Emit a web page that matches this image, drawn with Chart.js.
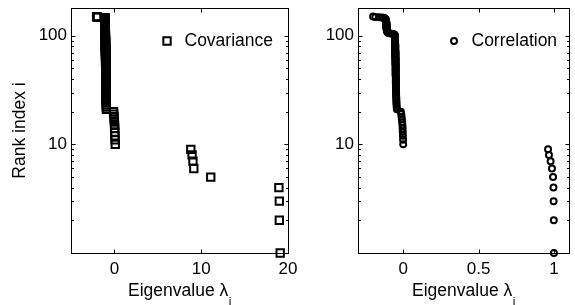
<!DOCTYPE html>
<html>
<head>
<meta charset="utf-8">
<script src="https://cdn.jsdelivr.net/npm/chart.js@4.4.1/dist/chart.umd.min.js"></script>
<style>
  html, body { margin: 0; padding: 0; background: #fff; }
  #wrap { position: relative; width: 575px; height: 305px; overflow: hidden; }
  canvas { position: absolute; top: 0; }
  #covChart { left: 0; }
  #corChart { left: 290px; }
</style>
</head>
<body>
<div id="wrap">
  <canvas id="covChart" width="300" height="305"></canvas>
  <canvas id="corChart" width="285" height="305"></canvas>
</div>
<script>
// eigenvalues, sorted from rank 1 (largest) to rank 150 (smallest)
var covEig = [19.1, 19.0, 19.0, 18.95, 11.1, 9.15, 9.05, 8.95, 8.8,
  0.1, 0.08, 0.06, 0.05, 0.03, 0.02, 0.0, -0.02, -0.04, -0.07, -0.1,
  -0.92, -0.93, -0.94, -0.94, -0.95, -0.95, -0.96, -0.96, -0.96, -0.97,
  -0.97, -0.97, -0.97, -0.98, -0.98, -0.98, -0.98, -0.98, -0.99, -0.99,
  -0.99, -0.99, -0.99, -0.99, -1.00, -1.00, -1.00, -1.00, -1.00, -1.00,
  -1.00, -1.00, -1.00, -1.00, -1.00, -1.01, -1.01, -1.01, -1.01, -1.01,
  -1.01, -1.01, -1.01, -1.01, -1.01, -1.01, -1.02, -1.02, -1.02, -1.02,
  -1.02, -1.02, -1.02, -1.02, -1.02, -1.02, -1.02, -1.02, -1.03, -1.03,
  -1.03, -1.03, -1.03, -1.03, -1.03, -1.03, -1.03, -1.03, -1.03, -1.03,
  -1.03, -1.04, -1.04, -1.04, -1.04, -1.04, -1.04, -1.04, -1.04, -1.04,
  -1.04, -1.04, -1.04, -1.04, -1.05, -1.05, -1.05, -1.05, -1.05, -1.05,
  -1.05, -1.05, -1.05, -1.05, -1.05, -1.05, -1.05, -1.06, -1.06, -1.06,
  -1.06, -1.06, -1.06, -1.06, -1.06, -1.06, -1.06, -1.06, -1.06, -1.07,
  -1.07, -1.07, -1.07, -1.07, -1.07, -1.07, -1.07, -1.08, -1.08, -1.08,
  -1.08, -1.08, -1.08, -1.09, -1.09, -1.10, -1.10,
  -1.95, -2.0, -2.05];

var corEig = [1.0, 0.999, 0.998, 0.997, 0.994, 0.987, 0.978, 0.967, 0.961,
  0.0, -0.001, -0.002, -0.003, -0.004, -0.005, -0.007, -0.009, -0.011, -0.013, -0.016,
  -0.042, -0.043, -0.044, -0.045, -0.045, -0.046, -0.046, -0.047, -0.047, -0.047,
  -0.048, -0.048, -0.048, -0.048, -0.048, -0.049, -0.049, -0.049, -0.049, -0.049,
  -0.049, -0.049, -0.050, -0.050, -0.050, -0.050, -0.050, -0.050, -0.050, -0.050,
  -0.050, -0.050, -0.050, -0.050, -0.051, -0.051, -0.051, -0.051, -0.051, -0.051,
  -0.051, -0.051, -0.051, -0.052, -0.052, -0.052, -0.052, -0.052, -0.052, -0.052,
  -0.052, -0.052, -0.053, -0.053, -0.053, -0.053, -0.053, -0.053, -0.053, -0.053,
  -0.053, -0.053, -0.053, -0.054, -0.054, -0.054, -0.054, -0.054, -0.054, -0.054,
  -0.054, -0.054, -0.055, -0.055, -0.055, -0.055, -0.055, -0.055, -0.055, -0.055,
  -0.056, -0.058, -0.062, -0.070, -0.085,
  -0.098, -0.102, -0.104, -0.105, -0.106, -0.107, -0.108, -0.108, -0.109, -0.109,
  -0.110, -0.110, -0.110, -0.110, -0.110, -0.111, -0.111, -0.111, -0.111, -0.111,
  -0.112, -0.112, -0.112, -0.112, -0.112, -0.113, -0.113, -0.113, -0.113, -0.113,
  -0.114, -0.114, -0.115, -0.115, -0.116, -0.117, -0.118, -0.120, -0.122, -0.125, -0.128,
  -0.140, -0.160, -0.185, -0.200];

var yLabelTicks = [10, 100];
var covXTicks = [0, 10, 20];
var corXTicks = [0, 0.5, 1];

var FONT = '"Liberation Sans", Arial, Helvetica, sans-serif';
Chart.defaults.font.family = FONT;
Chart.defaults.font.size = 17;
Chart.defaults.color = '#000';

function toPoints(eig) {
  return eig.map(function (v, i) { return { x: v, y: i + 1 }; });
}

// matlab style box: inward ticks on all sides, legend inside, axis titles
var boxPlugin = {
  id: 'boxAxes',
  afterDraw: function (chart, args, opts) {
    var ctx = chart.ctx, a = chart.chartArea;
    var xs = chart.scales.x, ys = chart.scales.y;
    var L = Math.round(a.left) + 0.5, R = Math.round(a.right) + 0.5;
    var T = Math.round(a.top) + 0.5, B = Math.round(a.bottom) + 0.5;
    ctx.save();
    ctx.strokeStyle = '#000';
    ctx.lineWidth = 1;
    ctx.beginPath();
    xs.ticks.forEach(function (t) {
      var px = Math.round(xs.getPixelForValue(t.value)) + 0.5;
      ctx.moveTo(px, B); ctx.lineTo(px, B - 4);
      ctx.moveTo(px, T); ctx.lineTo(px, T + 4);
    });
    ys.ticks.forEach(function (t) {
      var py = Math.round(ys.getPixelForValue(t.value)) + 0.5;
      var len = yLabelTicks.indexOf(t.value) >= 0 ? 4 : 2.5;
      ctx.moveTo(L, py); ctx.lineTo(L + len, py);
      ctx.moveTo(R, py); ctx.lineTo(R - len, py);
    });
    ctx.stroke();
    ctx.strokeRect(L, T, R - L, B - T);

    // legend
    var ds = chart.data.datasets[0];
    var mx = a.left + opts.legendX, my = a.top + opts.legendY;
    ctx.fillStyle = 'rgba(0,0,0,0)';
    ctx.lineWidth = ds.borderWidth;
    Chart.helpers.drawPoint(ctx, { pointStyle: ds.pointStyle, radius: ds.pointRadius, borderWidth: ds.borderWidth, rotation: 0 }, mx, my);
    ctx.fillStyle = '#000';
    ctx.font = '17.5px ' + FONT;
    ctx.textAlign = 'left';
    ctx.textBaseline = 'middle';
    ctx.fillText(ds.label, mx + 17.5, my + 0.5);

    // x title with subscript
    var main = 'Eigenvalue λ', sub = 'i';
    ctx.font = '17.5px ' + FONT;
    var w1 = ctx.measureText(main).width;
    ctx.font = '12px ' + FONT;
    var w2 = ctx.measureText(sub).width;
    var x0 = (a.left + a.right) / 2 - (w1 + w2) / 2;
    ctx.textBaseline = 'alphabetic';
    ctx.font = '17.5px ' + FONT;
    ctx.fillText(main, x0, 296);
    ctx.font = '12px ' + FONT;
    ctx.fillText(sub, x0 + w1 + 0.5, 306);

    if (opts.yTitle) {
      ctx.translate(25, (a.top + a.bottom) / 2);
      ctx.rotate(-Math.PI / 2);
      ctx.font = '17.5px ' + FONT;
      ctx.textAlign = 'center';
      ctx.fillText(opts.yTitle, 0, 0);
    }
    ctx.restore();
  }
};

function makeChart(id, label, eig, style, radius, xMin, xMax, xTicks, yAxisWidth, padRight, yTitle) {
  return new Chart(document.getElementById(id), {
    type: 'scatter',
    data: {
      datasets: [{
        label: label,
        data: toPoints(eig),
        pointStyle: style,
        pointRadius: radius,
        borderWidth: 2,
        borderColor: '#000',
        backgroundColor: 'rgba(0,0,0,0)',
        clip: false
      }]
    },
    options: {
      responsive: false,
      animation: false,
      devicePixelRatio: 1,
      events: [],
      layout: { padding: { top: 8, right: padRight, bottom: 0, left: 0 } },
      plugins: {
        legend: { display: false },
        tooltip: { enabled: false },
        boxAxes: { legendX: 96, legendY: 33, yTitle: yTitle }
      },
      scales: {
        x: {
          type: 'linear',
          min: xMin,
          max: xMax,
          grid: { display: false, drawTicks: false },
          border: { display: false },
          ticks: {
            autoSkip: false,
            maxRotation: 0,
            padding: 6,
            font: { size: 17 },
            callback: function (v) { return String(v); }
          },
          afterBuildTicks: function (s) {
            s.ticks = xTicks.map(function (v) { return { value: v }; });
          },
          afterFit: function (s) {
            s.height = 52;
            s.paddingLeft = 0; s.paddingRight = 0;
          }
        },
        y: {
          type: 'logarithmic',
          min: 1,
          max: 180,
          grid: { display: false, drawTicks: false },
          border: { display: false },
          ticks: {
            autoSkip: false,
            padding: 4,
            font: { size: 17 },
            callback: function (v) { return yLabelTicks.indexOf(v) >= 0 ? String(v) : ''; }
          },
          afterBuildTicks: function (s) {
            s.ticks = s.ticks.filter(function (t) {
              var m = t.value / Math.pow(10, Math.floor(Math.log10(t.value) + 1e-9));
              return t.value > 1 && t.value <= 100 && Math.abs(m - Math.round(m)) < 1e-6;
            });
          },
          afterFit: function (s) {
            s.width = yAxisWidth;
            s.paddingTop = 0; s.paddingBottom = 0;
          }
        }
      }
    },
    plugins: [boxPlugin]
  });
}

makeChart('covChart', 'Covariance', covEig, 'rect', 5.2, -5, 20, covXTicks, 71, 12, 'Rank index i');
makeChart('corChart', 'Correlation', corEig, 'circle', 3, -0.3, 1.1, corXTicks, 68, 0, null);
</script>
</body>
</html>
